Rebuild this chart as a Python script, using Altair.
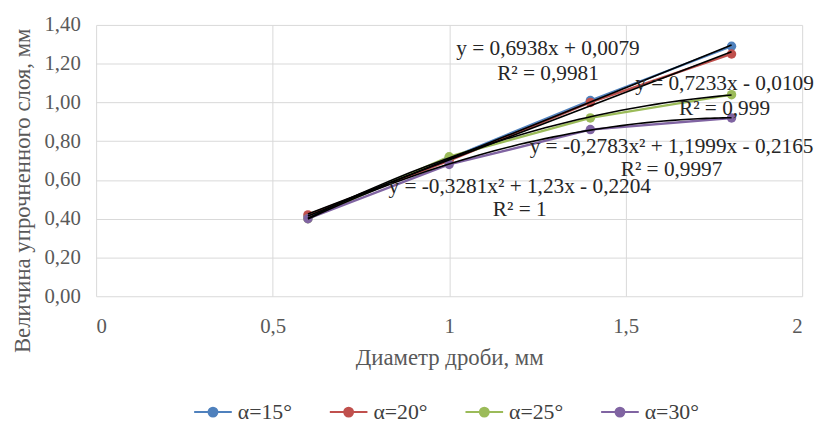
import altair as alt
import pandas as pd

diam = [0.6, 1.0, 1.4, 1.8]
s15 = [0.41, 0.71, 1.01, 1.29]
s20 = [0.42, 0.70, 1.00, 1.25]
s25 = [0.40, 0.72, 0.92, 1.04]
s30 = [0.40, 0.68, 0.86, 0.92]
names = ["α=15°", "α=20°", "α=25°", "α=30°"]
colors = ["#4F81BD", "#C0504D", "#9BBB59", "#8064A2"]
y_ticks = [0, 0.2, 0.4, 0.6, 0.8, 1.0, 1.2, 1.4]
x_ticks = [0, 0.5, 1, 1.5, 2]

eq_text = ["y = 0,6938x + 0,0079", "R² = 0,9981",
           "y = 0,7233x - 0,0109", "R² = 0,999",
           "y = -0,2783x² + 1,1999x - 0,2165", "R² = 0,9997",
           "y = -0,3281x² + 1,23x - 0,2204", "R² = 1"]
eq_x = [1.28, 1.28, 1.78, 1.78, 1.63, 1.63, 1.20, 1.20]
eq_y = [1.277, 1.145, 1.093, 0.966, 0.768, 0.652, 0.562, 0.445]

rows = []
for n, vals in zip(names, [s15, s20, s25, s30]):
    for d, v in zip(diam, vals):
        rows.append({"d": d, "v": v, "s": n})
df = pd.DataFrame(rows)
tdf = pd.DataFrame({"x": eq_x, "y": eq_y, "t": eq_text})

FONT = "Liberation Serif"
xsc = alt.Scale(domain=[0, 2], nice=False)
ysc = alt.Scale(domain=[0, 1.4], nice=False)

sym = "M-1.9,0L1.9,0M-0.45,0A0.45,0.45,0,1,1,0.45,0A0.45,0.45,0,1,1,-0.45,0Z"

xaxis = alt.Axis(values=x_ticks, labelOverlap=False,
                 labelExpr="replace(toString(datum.value), '.', ',')",
                 labelPadding=20, titlePadding=10)
yaxis = alt.Axis(values=y_ticks, labelOverlap=False,
                 labelExpr="replace(format(datum.value, '.2f'), '.', ',')",
                 labelPadding=16, titlePadding=10, titleY=167)
XT = "Диаметр дроби, мм"
YT = "Величина упрочненного слоя, мм"


def X(f):
    return alt.X(f, type="quantitative", scale=xsc, title=XT, axis=xaxis)


def Y(f):
    return alt.Y(f, type="quantitative", scale=ysc, title=YT, axis=yaxis)


base = alt.Chart(df)
color = alt.Color("s:N", scale=alt.Scale(domain=names, range=colors),
                  legend=alt.Legend(title=None, orient="none", direction="horizontal",
                                    legendX=107, legendY=380, symbolType=sym,
                                    symbolSize=400, symbolStrokeWidth=2,
                                    labelFont=FONT, labelFontSize=22,
                                    labelColor="#404040", columnPadding=34,
                                    labelOffset=14, symbolOffset=0))

lines = base.mark_line(strokeWidth=2.4).encode(x=X("d"), y=Y("v"), color=color)
pts = base.mark_circle(size=90, opacity=1).encode(x=X("d"), y=Y("v"), color=color)

lin = base.transform_filter(
    alt.FieldOneOfPredicate(field="s", oneOf=names[:2])
).transform_regression("d", "v", groupby=["s"], method="linear").mark_line(
    color="black", strokeWidth=1.6).encode(x=X("d"), y=Y("v"), detail="s:N")
poly = base.transform_filter(
    alt.FieldOneOfPredicate(field="s", oneOf=names[2:])
).transform_regression("d", "v", groupby=["s"], method="poly", order=2).mark_line(
    color="black", strokeWidth=1.6).encode(x=X("d"), y=Y("v"), detail="s:N")

texts = alt.Chart(tdf).mark_text(font=FONT, fontSize=21.5, color="#262626",
                                 align="center", baseline="middle").encode(
    x=X("x"), y=Y("y"), text="t:N")

chart = alt.layer(lines, pts, lin, poly, texts).properties(
    width=713, height=274,
    autosize=alt.AutoSizeParams(type="none"),
    padding={"left": 89, "top": 15, "right": 16, "bottom": 133},
).configure_view(stroke=None).configure_axis(
    domain=False, ticks=False, gridColor="#D9D9D9", gridWidth=1,
    labelFont=FONT, labelFontSize=21, labelColor="#595959",
    titleFont=FONT, titleFontSize=23, titleColor="#595959", titleFontWeight="normal",
).configure_legend(labelFont=FONT, labelFontSize=22, labelColor="#404040")

chart.save("out.html", embed_options={"renderer": "svg", "actions": False})
